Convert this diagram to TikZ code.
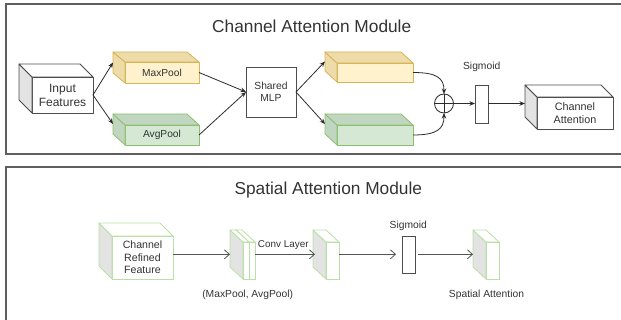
\documentclass[tikz,border=0pt]{standalone}
\usepackage{fontspec}
\setmainfont{Liberation Sans}
\usetikzlibrary{arrows.meta,calc}

\definecolor{txt}{HTML}{333333}
\definecolor{framegray}{HTML}{5F5F5F}
\definecolor{linecol}{HTML}{2B2B2B}
\definecolor{linegray}{HTML}{555555}
\definecolor{cubeline}{HTML}{4D4D4D}
\definecolor{sidegray}{HTML}{E3E3E3}
\definecolor{yfront}{HTML}{FFF2CC}
\definecolor{yside}{HTML}{EDDBA9}
\definecolor{yline}{HTML}{D6B656}
\definecolor{gfront}{HTML}{D5E8D4}
\definecolor{gside}{HTML}{C1D6C0}
\definecolor{gline}{HTML}{8CC070}
\definecolor{slabline}{HTML}{B9E0A5}

\tikzset{
  cube front/.store in=\cubefrontcol,
  cube side/.store in=\cubesidecol,
  cube top/.store in=\cubetopcol,
  cube line/.store in=\cubelinecol,
  plaincube/.style={cube front=white, cube side=sidegray, cube top=white, cube line=cubeline},
  yellowcube/.style={cube front=yfront, cube side=yside, cube top=yside, cube line=yline},
  greencube/.style={cube front=gfront, cube side=gside, cube top=gside, cube line=gline},
  slabcube/.style={cube front=white, cube side=sidegray, cube top=white, cube line=slabline},
}

% #1 cube style, #2 name, #3 back offset, #4..#7 front face (left, top, right, bottom), #8 text
\newcommand\drawcube[8]{%
  \begin{scope}[#1]
    \node[draw=\cubelinecol, fill=\cubefrontcol, line width=0.8pt, outer sep=0pt,
          inner sep=0pt, align=center,
          minimum width={(#6)-(#4)}, minimum height={(#7)-(#5)}]
      (#2) at ({((#4)+(#6))/2},{((#5)+(#7))/2}) {#8};
    \filldraw[draw=\cubelinecol, fill=\cubesidecol, line width=0.8pt, line join=round]
      (#2.north west) -- ++(#3) -- ([shift={(#3)}]#2.south west) -- (#2.south west) -- cycle;
    \filldraw[draw=\cubelinecol, fill=\cubetopcol, line width=0.8pt, line join=round]
      (#2.north west) -- ++(#3) -- ([shift={(#3)}]#2.north east) -- (#2.north east) -- cycle;
    \coordinate (#2-in) at ([shift={(#3)}]#2.west);
  \end{scope}%
}

\begin{document}
\begin{tikzpicture}[x=1pt, y=-1pt,
  frame/.style={draw=framegray, line width=1.3pt},
  title/.style={text=txt, inner sep=0pt, font=\fontsize{17.3}{20}\selectfont},
  label/.style={text=txt, inner sep=0pt, align=center, font=\fontsize{10.3}{12.5}\selectfont},
  flow/.style={draw=linecol, line width=0.8pt, -{Stealth[length=5.5pt,width=4.5pt]}},
  openflow/.style={draw=linegray, line width=0.8pt, -{Straight Barb[length=5pt,width=9pt]}},
  plainbox/.style={draw=cubeline, fill=white, line width=0.8pt, inner sep=0pt, outer sep=0pt,
                   text=txt, align=center},
]
\useasboundingbox (0,0) rectangle (621,320);
\clip (0,0) rectangle (621,320);

% ---------------- panel frames ----------------
\draw[frame] (6,4) rectangle (640,154);
\draw[frame] (6,167) rectangle (640,340);

% ================= Channel Attention Module =================
\node[title] (ctitle) at (311.7,26.5) {Channel Attention Module};

\drawcube{plaincube, text=txt, font=\fontsize{12}{14}\selectfont}{inp}{-13,-13}{32}{77}{93}{113}{Input\\Features}
\drawcube{yellowcube, text=txt, font=\fontsize{10.2}{12}\selectfont}{mp}{-12,-10}{125}{62}{199}{83}{MaxPool}
\drawcube{greencube, text=txt, font=\fontsize{10.2}{12}\selectfont}{ap}{-12,-11}{125}{125}{199}{145}{AvgPool}

\node[plainbox, minimum width=50, minimum height=50, font=\fontsize{10.3}{12}\selectfont]
  (mlp) at (271,92) {Shared\\MLP};

\drawcube{yellowcube}{y2}{-12,-11}{337}{63}{413}{82}{}
\drawcube{greencube}{g2}{-12,-11}{337}{125}{413}{145}{}

\node[draw=linecol, line width=0.8pt, circle, minimum size=19, inner sep=0pt, outer sep=0pt]
  (plus) at (444,103.5) {};
\draw[draw=linecol, line width=0.8pt] (plus.north) -- (plus.south) (plus.west) -- (plus.east);

\node[plainbox, minimum width=13, minimum height=38] (sig1) at (481.5,104) {};
\node[label] (sig1lab) at (481.7,66.5) {Sigmoid};

\drawcube{plaincube, text=txt, font=\fontsize{10.8}{13.5}\selectfont}{ca}{-12,-12}{537}{97}{613}{129}{Channel\\Attention}

% connectors
\draw[flow] (inp.east) -- (mp-in);
\draw[flow] (inp.east) -- (ap-in);
\draw[flow] (mp.east) -- (mlp.west);
\draw[flow] (ap.east) -- (mlp.west);
\draw[flow] (mlp.east) -- (y2-in);
\draw[flow] (mlp.east) -- (g2-in);
\draw[flow] (y2.east) .. controls +(24,0) and +(0,-16) .. (plus.north);
\draw[flow] (g2.east) .. controls +(24,0) and +(0,16) .. (plus.south);
\draw[flow] (plus.east) -- (sig1.west |- plus.east);
\draw[flow] (sig1.east |- plus.east) -- (ca-in |- plus.east);

% ================= Spatial Attention Module =================
\node[title] (stitle) at (328.3,190) {Spatial Attention Module};

\drawcube{slabcube, text=txt, font=\fontsize{10.6}{12.5}\selectfont}{ref}{-13,-13}{112}{236}{173}{279}{Channel\\Refined\\Feature}

% stacked pooled maps: rear slab first, front slab over it
\drawcube{slabcube}{poolb}{-13,-12}{249}{242}{255}{279}{}
\drawcube{slabcube}{poola}{-13,-12}{243}{242}{249}{279}{}
\node[label] (poollab) at (247.7,295) {(MaxPool, AvgPool)};

\drawcube{slabcube}{conv}{-13,-12}{326}{242}{339}{279}{}
\node[label, font=\fontsize{9.9}{12}\selectfont] (convlab) at (283.3,245.5) {Conv Layer};

\node[draw=cubeline, fill=white, line width=0.8pt, inner sep=0pt, outer sep=0pt,
      minimum width=13, minimum height=37] (sig2) at (408.5,254.5) {};
\node[label] (sig2lab) at (408.3,225.7) {Sigmoid};

\drawcube{slabcube}{sp}{-13,-12}{486}{242}{499}{279}{}
\node[label] (splab) at (486.5,295) {Spatial Attention};

% connectors
\coordinate (lane) at (0,254.3);
\draw[openflow] (ref.east |- lane) -- (poola-in |- lane);
\draw[openflow] (poolb.east |- lane) -- ([xshift=2pt]conv-in |- lane);
\draw[openflow, shorten >=6pt] (conv.east |- lane) -- (sig2.west |- lane);
\draw[openflow, shorten <=3pt] (sig2.east |- lane) -- (sp-in |- lane);
\end{tikzpicture}
\end{document}
